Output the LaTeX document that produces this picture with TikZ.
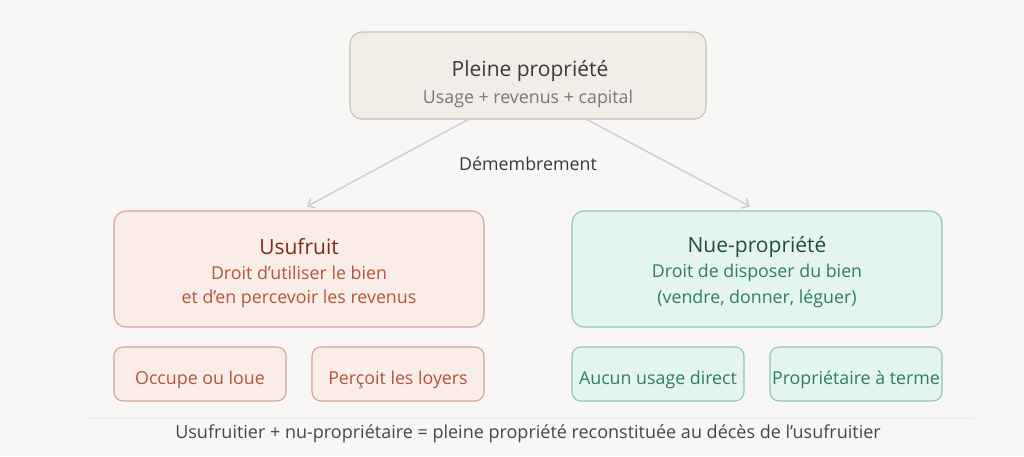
\documentclass[tikz,border=0pt]{standalone}
\usepackage{fontspec}
\setmainfont{Open Sans}
\usetikzlibrary{arrows.meta}
\definecolor{bgc}{HTML}{F8F7F5}
\definecolor{topfill}{HTML}{F1EEE8}
\definecolor{topdraw}{HTML}{C4C0B8}
\definecolor{toptitle}{HTML}{3A3A3A}
\definecolor{topsub}{HTML}{777777}
\definecolor{usufill}{HTML}{FAECE7}
\definecolor{usudraw}{HTML}{D8A394}
\definecolor{usutitle}{HTML}{7B2D17}
\definecolor{usutext}{HTML}{B4553A}
\definecolor{nuefill}{HTML}{E4F4EE}
\definecolor{nuedraw}{HTML}{8FC9B5}
\definecolor{nuetitle}{HTML}{1E4F3F}
\definecolor{nuetext}{HTML}{2F7D62}
\definecolor{conncol}{HTML}{CFCFCF}
\definecolor{sepcol}{HTML}{ECEBE8}
\definecolor{foot}{HTML}{474747}
\tikzset{
  boxbase/.style={rectangle, rounded corners=12pt, line width=1.1pt, inner sep=0pt},
  topbox/.style={boxbase, fill=topfill, draw=topdraw, minimum width=356pt, minimum height=87pt},
  bigusu/.style={boxbase, fill=usufill, draw=usudraw, minimum width=370pt, minimum height=116pt},
  bignue/.style={boxbase, fill=nuefill, draw=nuedraw, minimum width=370pt, minimum height=116pt},
  smallusu/.style={boxbase, rounded corners=9pt, fill=usufill, draw=usudraw, minimum width=172pt, minimum height=54pt},
  smallnue/.style={boxbase, rounded corners=9pt, fill=nuefill, draw=nuedraw, minimum width=172pt, minimum height=54pt},
  titletxt/.style={inner sep=0pt, font=\fontsize{21}{25}\selectfont},
  bodytxt/.style={inner sep=0pt, font=\fontsize{17.8}{21}\selectfont},
  conn/.style={draw=conncol, line width=1.5pt, -{Straight Barb[length=6pt,width=11pt,line width=1.5pt]}},
}
\begin{document}
\begin{tikzpicture}[x=1pt,y=-1pt]
\useasboundingbox[fill=bgc] (0,0) rectangle (1024,456);
% boxes
\node[topbox] (top) at (528,75.5) {};
\node[bigusu] (usu) at (299,269) {};
\node[bignue] (nue) at (757,269) {};
\node[smallusu] (occ) at (200,374) {};
\node[smallusu] (perc) at (398,374) {};
\node[smallnue] (auc) at (658,374) {};
\node[smallnue] (prop) at (856,374) {};
% texts
\node[titletxt, text=toptitle] (toptitle) at (530,71) {Pleine propriété};
\node[bodytxt, text=topsub] (topsub) at (528,99) {Usage + revenus + capital};
\node[bodytxt, text=toptitle] (dem) at (528,164) {Démembrement};
\node[titletxt, text=usutitle] (usut) at (299,247) {Usufruit};
\node[bodytxt, text=usutext] (usu1) at (299,273) {Droit d’utiliser le bien};
\node[bodytxt, text=usutext] (usu2) at (299,299) {et d’en percevoir les revenus};
\node[titletxt, text=nuetitle] (nuet) at (757,247) {Nue-propriété};
\node[bodytxt, text=nuetext] (nue1) at (757,273) {Droit de disposer du bien};
\node[bodytxt, text=nuetext] (nue2) at (757,299) {(vendre, donner, léguer)};
\node[bodytxt, text=usutext] (occt) at (200,380) {Occupe ou loue};
\node[bodytxt, text=usutext] (perct) at (398,380) {Perçoit les loyers};
\node[bodytxt, text=nuetext] (auct) at (658,380) {Aucun usage direct};
\node[bodytxt, text=nuetext] (propt) at (856,380) {Propriétaire à terme};
% connectors
\draw[conn] ([xshift=-60pt]top.south) -- ([xshift=8pt,yshift=4pt]usu.north);
\draw[conn] ([xshift=59pt]top.south) -- ([xshift=-7pt,yshift=4pt]nue.north);
% separator and footer
\coordinate (sepl) at (85,418);
\coordinate (sepr) at (975,418);
\draw[sepcol, line width=1pt] (sepl) -- (sepr);
\node[inner sep=0pt, text=foot, font=\fontsize{18}{21}\selectfont] (foot) at (528,434) {Usufruitier + nu-propriétaire = pleine propriété reconstituée au décès de l{\char"0027}usufruitier};
\end{tikzpicture}
\end{document}
